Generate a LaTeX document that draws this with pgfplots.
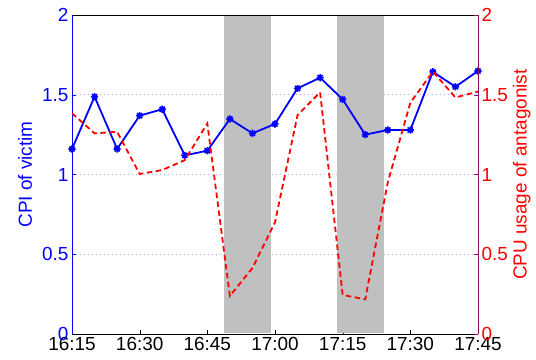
\documentclass[border=0pt]{standalone}
\usepackage{pgfplots}
\pgfplotsset{compat=1.18}
\usepackage{fontspec}
\setmainfont{Liberation Sans}
\definecolor{gridc}{RGB}{175,175,255}
\definecolor{shade}{RGB}{192,192,192}
\definecolor{rax}{RGB}{140,20,100}
\pgfdeclareplotmark{mstar}{%
  \pgfpathmoveto{\pgfqpoint{-\pgfplotmarksize}{0pt}}\pgfpathlineto{\pgfqpoint{\pgfplotmarksize}{0pt}}%
  \pgfpathmoveto{\pgfqpoint{0pt}{-\pgfplotmarksize}}\pgfpathlineto{\pgfqpoint{0pt}{\pgfplotmarksize}}%
  \pgfpathmoveto{\pgfqpoint{-0.7071\pgfplotmarksize}{-0.7071\pgfplotmarksize}}\pgfpathlineto{\pgfqpoint{0.7071\pgfplotmarksize}{0.7071\pgfplotmarksize}}%
  \pgfpathmoveto{\pgfqpoint{-0.7071\pgfplotmarksize}{0.7071\pgfplotmarksize}}\pgfpathlineto{\pgfqpoint{0.7071\pgfplotmarksize}{-0.7071\pgfplotmarksize}}%
  \pgfusepathqstroke}
\begin{document}
\begin{tikzpicture}
\path[use as bounding box] (-72bp,-26bp) rectangle (464bp,334bp);
\pgfplotsset{every axis/.append style={font=\fontsize{19}{22}\selectfont}}
\begin{axis}[
  width=406bp, height=319bp, scale only axis,
  at={(0,0)}, anchor=south west,
  xmin=0, xmax=90, ymin=0, ymax=2,
  axis x line*=box, axis y line*=left,
  xtick={0,15,30,45,60,75,90},
  xticklabels={16:15,16:30,16:45,17:00,17:15,17:30,17:45},
  xtick pos=bottom,
  ytick={0,0.5,1,1.5,2},
  yticklabels={0,0.5,1,1.5,2},
  tick align=inside,
  major tick length=4bp,
  x axis line style={black, line width=0.9bp},
  y axis line style={blue, line width=0.9bp},
  ytick style={blue},
  xtick style={black},
  yticklabel style={text=blue},
  ymajorgrids,
  grid style={gridc, line width=0.9bp, dash pattern=on 1bp off 3bp},
  ylabel={CPI of victim},
  every axis y label/.style={at={(axis description cs:-0.1158,0.5)}, rotate=90, anchor=center, text=blue},
]
\addplot[draw=none, fill=shade] coordinates {(33.76,0.004) (44.11,0.004) (44.11,1.996) (33.76,1.996)} -- cycle;
\addplot[draw=none, fill=shade] coordinates {(58.67,0.004) (69.16,0.004) (69.16,1.996) (58.67,1.996)} -- cycle;
\addplot[blue, line width=1.8bp, mark=mstar, mark size=3.6bp, mark options={line width=1.6bp, solid}]
 coordinates {(0,1.16) (5,1.488) (10,1.16) (15,1.369) (20,1.409) (25,1.12) (30,1.149) (35,1.348) (40,1.258) (45,1.317) (50,1.54) (55,1.607) (60,1.471) (65,1.25) (70,1.279) (75,1.279) (80,1.644) (85,1.55) (90,1.649)};
\end{axis}
\begin{axis}[
  width=406bp, height=319bp, scale only axis,
  at={(0,0)}, anchor=south west,
  xmin=0, xmax=90, ymin=0, ymax=2,
  axis x line=none, axis y line*=right,
  ytick={0,0.5,1,1.5,2},
  yticklabels={0,0.5,1,1.5,2},
  tick align=inside,
  major tick length=4bp,
  y axis line style={rax, line width=0.9bp},
  ytick style={rax},
  yticklabel style={text=red},
  ylabel={CPU usage of antagonist},
  every axis y label/.style={at={(axis description cs:1.108,0.5)}, rotate=90, anchor=center, text=red},
]
\addplot[red, line width=1.8bp, dash pattern=on 5.5bp off 3.5bp]
 coordinates {(0,1.384) (5,1.258) (10,1.268) (15,1.003) (20,1.028) (25,1.09) (30,1.32) (35,0.238) (40,0.414) (45,0.70) (50,1.373) (55,1.515) (60,0.245) (65,0.217) (70,0.95) (75,1.45) (80,1.645) (85,1.483) (90,1.52)};
\end{axis}
\end{tikzpicture}
\end{document}
